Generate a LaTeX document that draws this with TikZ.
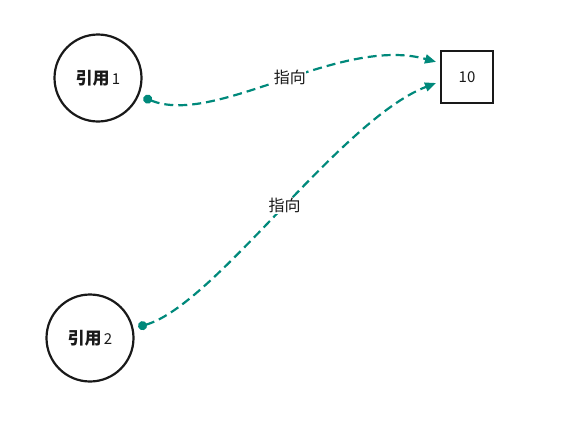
\documentclass[tikz,border=0pt]{standalone}
\usepackage{fontspec}
\setmainfont{Noto Sans CJK SC}
\usetikzlibrary{arrows.meta}
\definecolor{linkteal}{RGB}{0,137,123}
\definecolor{inkdark}{RGB}{25,25,25}

\tikzset{
  refnode/.style={circle, draw=inkdark, line width=2.2pt, minimum size=87pt, inner sep=0pt, outer sep=6pt, text=inkdark},
  valnode/.style={rectangle, draw=inkdark, line width=2.2pt, minimum size=52pt, inner sep=0pt, outer sep=5pt, text=inkdark, font=\fontsize{15}{17}\selectfont},
  pointer/.style={draw=linkteal, line width=2.2pt, dash pattern=on 9pt off 5pt,
    {Circle[length=9pt,fill=linkteal]}-{Triangle[length=11pt,width=9pt,fill=linkteal]}},
  tag/.style={fill=white, inner sep=0.5pt, text=inkdark, font=\fontsize{16}{18}\selectfont}
}

\begin{document}
\begin{tikzpicture}[x=1pt, y=-1pt]
    \useasboundingbox (0,0) rectangle (573,429);
    \node[refnode] (ref1) at (98,78) {{\fontsize{17}{19}\selectfont\bfseries 引用} {\fontsize{15}{17}\selectfont 1}};
    \node[refnode] (ref2) at (90,338) {{\fontsize{17}{19}\selectfont\bfseries 引用} {\fontsize{15}{17}\selectfont 2}};
    \node[valnode] (val) at (467,77) {10};
    \draw[pointer] (ref1.-23) .. controls (215,127) and (340,35) .. node[tag, pos=0.53] {指向} (val.154);
    \draw[pointer] (ref2.13) .. controls (215,305) and (340,120) .. node[tag, pos=0.515] {指向} (val.191);
  \end{tikzpicture}
\end{document}
